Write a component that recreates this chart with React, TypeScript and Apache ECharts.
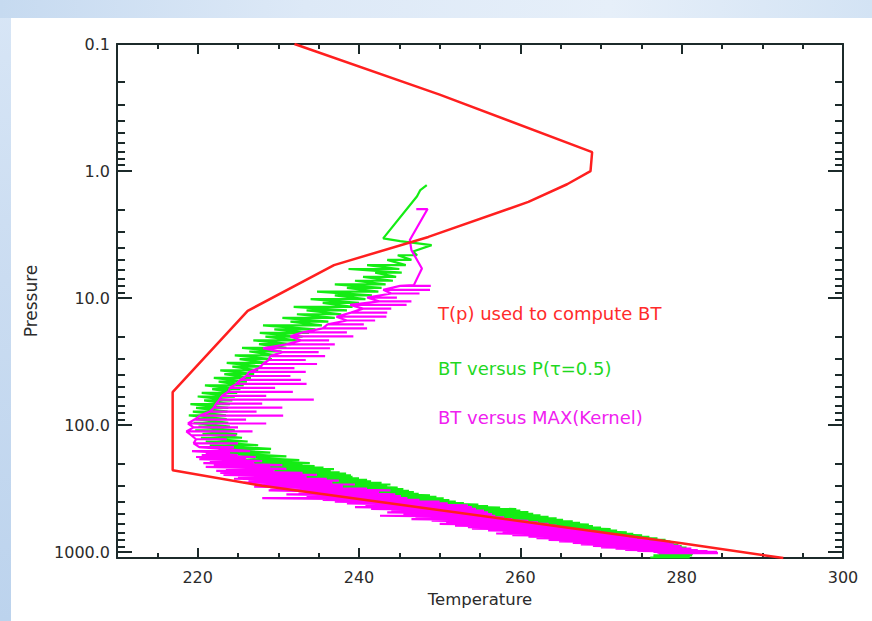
import { useEffect, useRef } from 'react';
import * as echarts from 'echarts';

// ---------- data ----------
const xTickLabels = [220, 240, 260, 280, 300];
const yDecades = [0.1, 1, 10, 100, 1000];

// T(p) used to compute BT
const redT = [232.0, 250.0, 268.9, 268.7, 265.8, 261.0, 248.6, 236.9, 226.2, 216.9, 216.9, 228.0, 280.0, 292.6];
const redP = [0.1, 0.25, 0.71, 1.0, 1.27, 1.75, 3.3, 5.5, 12.6, 55, 226, 300, 851, 1110];

// BT versus P(tau=0.5): head of the line
const greenHeadT = [248.4, 247.6, 247.2, 243.0, 245.1, 249.0, 246.7];
const greenHeadP = [1.29, 1.41, 1.58, 3.39, 3.56, 3.83, 4.3];
// band of channels: [pressure, low T, high T]
const greenBand: [number, number, number][] = [
  [4.6, 244.8, 247.2], [5.0, 243.5, 246.5], [5.5, 241.0, 245.8], [5.9, 238.7, 245.0],
  [6.3, 242.0, 245.3], [6.8, 240.5, 244.6], [7.3, 239.5, 244.2], [7.8, 237.0, 243.3],
  [8.3, 238.5, 242.8], [8.9, 234.8, 242.4], [9.5, 237.0, 241.6], [10.2, 234.0, 240.8],
  [10.9, 235.5, 240.0], [11.7, 231.9, 239.2], [12.5, 233.5, 238.5], [13.4, 232.3, 237.8],
  [14.3, 230.5, 237.0], [15.3, 231.5, 236.2], [16.4, 228.1, 235.4], [17.6, 229.5, 234.6],
  [18.8, 227.7, 233.8], [20.1, 228.4, 233.0], [21.5, 226.9, 232.3], [23.0, 227.6, 231.6],
  [24.6, 225.5, 231.0], [26.3, 226.4, 230.4], [28.2, 224.6, 229.8], [30.2, 225.2, 229.2],
  [32.3, 223.6, 228.6], [34.6, 224.3, 228.0], [37.0, 222.8, 227.5], [39.6, 223.3, 227.0],
  [42.4, 222.0, 226.6], [45.4, 222.6, 226.1], [48.6, 220.9, 225.7], [52.0, 221.8, 225.3],
  [55.6, 220.5, 224.9], [59.5, 220.0, 224.6], [63.7, 220.8, 224.3], [68.2, 219.1, 224.0],
  [73.0, 219.8, 223.8], [78.1, 219.4, 223.7], [83.6, 218.9, 223.5], [89.5, 219.8, 223.6],
  [95.8, 219.5, 223.8], [102.5, 220.1, 224.0], [109.7, 219.7, 224.6], [117.4, 220.6, 224.9],
  [125.6, 220.4, 225.5], [134.4, 221.0, 226.2], [143.8, 221.5, 227.5], [153.9, 222.6, 229.1],
  [164.7, 222.5, 229.0], [176.2, 223.9, 231.0], [188.5, 225.3, 232.6], [199.0, 225.7, 233.9],
  [204, 226.8, 233.0], [210, 227.0, 234.5], [216, 227.8, 235.6], [222, 228.5, 236.9],
  [228, 229.5, 236.5], [235, 229.2, 237.6], [241, 230.6, 238.4], [248, 231.0, 239.0],
  [255, 232.0, 239.2], [262, 232.4, 240.0], [269, 233.6, 241.0], [277, 234.0, 241.5],
  [285, 235.2, 242.8], [293, 236.0, 243.9], [301, 237.0, 243.5], [310, 237.8, 244.8],
  [319, 239.0, 245.5], [328, 240.0, 246.2], [337, 241.0, 246.8], [347, 242.0, 247.4],
  [357, 243.2, 248.8], [367, 244.0, 249.6], [377, 244.6, 250.5], [388, 245.5, 251.2],
  [399, 246.8, 252.0], [410, 247.5, 253.0], [421, 248.0, 254.8], [433, 249.0, 256.0],
  [445, 250.2, 257.5], [458, 251.0, 259.5], [471, 252.5, 260.0], [484, 253.0, 261.0],
  [498, 254.2, 261.6], [512, 255.0, 262.5], [526, 256.4, 263.5], [541, 257.3, 264.5],
  [556, 258.5, 265.3], [572, 259.5, 266.5], [588, 260.8, 267.4], [605, 261.8, 268.5],
  [622, 263.0, 269.0], [640, 264.0, 270.0], [658, 265.0, 271.2], [677, 266.3, 272.0],
  [696, 267.5, 273.2], [716, 268.5, 274.0], [736, 269.6, 275.1], [757, 270.5, 276.0],
  [778, 271.5, 277.0], [800, 272.5, 278.0], [823, 273.4, 278.6], [846, 274.3, 279.0],
  [870, 275.0, 279.6], [895, 275.9, 280.0], [920, 276.5, 280.6], [946, 277.0, 281.0],
  [973, 277.6, 281.3], [1000, 278.0, 281.5], [1028, 277.2, 281.4], [1057, 276.5, 281.3],
  [1100, 276.1, 281.0],
];

// BT versus MAX(Kernel): head of the line
const magentaHeadT = [247.1, 248.5, 246.3, 246.5, 247.8, 246.8];
const magentaHeadP = [1.99, 1.99, 3.49, 4.19, 5.84, 7.9];
// upper branch: thin core on the cold side, strokes towards warm side
const magentaUpperBand: [number, number, number][] = [
  [8.0, 245.1, 248.9], [8.6, 243.0, 248.8], [9.2, 244.0, 247.5], [9.9, 241.0, 244.7],
  [10.6, 242.5, 246.5], [11.3, 238.9, 245.9], [12.1, 240.5, 244.0], [13.0, 239.0, 243.5],
  [14.0, 237.2, 243.4], [15.0, 238.5, 242.0], [16.1, 236.1, 240.6], [17.3, 235.5, 241.0],
  [18.6, 233.0, 238.5], [20.0, 231.5, 239.3], [21.5, 232.8, 236.3], [23.1, 231.0, 237.0],
  [24.8, 228.1, 236.4], [26.6, 230.5, 235.0], [28.6, 229.0, 235.8], [30.7, 228.8, 233.4],
  [33.0, 228.1, 234.8], [35.5, 227.6, 232.0], [38.1, 226.4, 233.4], [41.0, 226.0, 231.5],
  [44.0, 225.3, 232.8], [47.3, 224.8, 233.5], [50.8, 224.0, 229.6], [54.6, 223.8, 231.8],
  [58.7, 223.0, 228.5], [63.0, 222.7, 234.4], [67.7, 222.3, 228.0], [72.8, 222.0, 230.5],
  [78.2, 221.5, 227.3], [84.0, 220.3, 230.6], [90.3, 219.6, 226.0], [97.0, 218.8, 228.5],
  [104, 219.5, 225.0], [112, 218.6, 226.8], [120, 219.2, 224.8], [129, 219.8, 223.6],
  [139, 219.5, 225.0], [149, 220.2, 224.5],
];
// lower branch: dense band
const magentaLowerBand: [number, number, number][] = [
  [160, 219.3, 226.5], [166, 221.0, 224.0], [172, 220.5, 225.0], [178, 219.8, 227.2],
  [185, 220.2, 226.0], [192, 221.5, 228.0], [199, 220.7, 227.0], [206, 222.0, 230.5],
  [213, 221.0, 229.0], [221, 223.5, 231.0], [229, 222.3, 229.5], [237, 222.8, 233.0],
  [246, 223.2, 234.8], [255, 225.0, 233.5], [264, 224.5, 236.0], [273, 226.3, 237.5],
  [283, 225.7, 236.7], [293, 227.5, 239.5], [304, 227.0, 238.0], [315, 229.0, 241.0],
  [326, 228.8, 243.9], [338, 232.5, 242.5], [350, 231.0, 244.5], [362, 233.5, 245.2],
  [375, 228.0, 246.0], [387, 235.5, 247.5], [400, 237.0, 250.0], [413, 238.5, 251.0],
  [427, 240.8, 253.5], [441, 239.5, 254.0], [455, 241.5, 254.5], [470, 244.0, 255.5],
  [485, 243.5, 256.0], [500, 245.5, 256.5], [516, 242.6, 256.9], [532, 247.0, 258.0],
  [548, 246.5, 259.0], [565, 249.0, 261.0], [582, 250.8, 262.2], [599, 250.0, 263.5],
  [617, 251.9, 264.5], [635, 253.5, 265.2], [653, 254.0, 266.0], [672, 256.0, 268.5],
  [692, 257.8, 270.0], [712, 257.0, 271.0], [733, 259.0, 272.2], [754, 261.0, 273.5],
  [776, 262.0, 274.5], [798, 263.5, 276.0], [820, 264.8, 277.8], [843, 266.5, 278.5],
  [866, 267.5, 279.0], [890, 269.0, 279.8], [914, 270.0, 280.0], [937, 271.8, 281.2],
  [960, 273.0, 282.0], [978, 274.5, 283.2], [995, 276.5, 284.4], [1015, 277.0, 284.5],
];

const seriesNames = ['T(p) used to compute BT', 'BT versus P(\u03c4=0.5)', 'BT versus MAX(Kernel)'];
const seriesColors = ['#ff1f1f', '#14ec14', '#ff00ff'];
const legendTextColors = ['#ff2b2b', '#1fd81f', '#f020f0'];

// ---------- helpers ----------
function pairs(t: number[], p: number[]): [number, number][] {
  return t.map((v, i) => [v, p[i]] as [number, number]);
}
// saw-tooth walk: warm end -> cold end at each level, then on to the next level
function sawPath(band: [number, number, number][]): [number, number][] {
  const out: [number, number][] = [];
  band.forEach(([p, lo, hi]) => {
    out.push([hi, p], [lo, p]);
  });
  return out;
}
// comb walk: core point, stroke out to the other end and back
function combPath(band: [number, number, number][]): [number, number][] {
  const out: [number, number][] = [];
  band.forEach(([p, lo, hi]) => {
    out.push([lo, p], [hi, p], [lo, p]);
  });
  return out;
}

const Y_MIN = 0.1;
const Y_MAX = 1110;
const minorLogTicks: number[] = [];
for (let d = -1; d <= 3; d++) {
  for (let m = 2; m <= 9; m++) {
    const v = d + Math.log10(m);
    if (v < Math.log10(Y_MAX)) minorLogTicks.push(v);
  }
}

const AXIS_COLOR = '#1c2a2a';
const TEXT_COLOR = '#2b2b2b';
const FONT = 'DejaVu Sans';

function isDecadeLabel(v: number) {
  return yDecades.some((d) => Math.abs(d - v) / d < 1e-6);
}

export default function App() {
  const ref = useRef<HTMLDivElement>(null);

  useEffect(() => {
    if (!ref.current) return;
    const chart = echarts.init(ref.current, undefined, { renderer: 'svg' });

    const axisLine = { show: true, onZero: false, lineStyle: { color: AXIS_COLOR, width: 2 } };
    const noLine = { show: false, onZero: false };
    const tickStyle = { color: AXIS_COLOR, width: 2 };

    const xBase = {
      type: 'value' as const,
      min: 210,
      max: 300,
      splitLine: { show: false },
    };
    const yLogBase = {
      type: 'log' as const,
      logBase: 10,
      min: Y_MIN,
      max: Y_MAX,
      inverse: true,
      splitLine: { show: false },
    };
    const yMinorBase = {
      type: 'value' as const,
      min: -1,
      max: Math.log10(Y_MAX),
      inverse: true,
      splitLine: { show: false },
      axisLine: noLine,
      axisLabel: { show: false },
      axisTick: { show: true, inside: true, length: 8, lineStyle: tickStyle, customValues: minorLogTicks },
    };

    const lineSeries = (i: number, data: [number, number][], width: number, z: number) => ({
      name: seriesNames[i],
      type: 'line',
      xAxisIndex: 0,
      yAxisIndex: 0,
      showSymbol: false,
      symbol: 'none',
      color: seriesColors[i],
      lineStyle: { width, color: seriesColors[i] },
      data,
      z,
    });

    chart.setOption({
      animation: false,
      backgroundColor: 'transparent',
      grid: { left: 117, right: 29, top: 44, bottom: 63, containLabel: false },
      legend: seriesNames.map((name, i) => ({
        data: [{ name, textStyle: { color: legendTextColors[i] } }],
        left: 433,
        top: [304, 359, 408][i],
        icon: 'none',
        itemWidth: 0,
        itemHeight: 0,
        padding: 0,
        selectedMode: false,
        textStyle: { fontSize: 18, fontFamily: FONT },
      })),
      xAxis: [
        {
          ...xBase,
          position: 'bottom',
          interval: 5,
          axisLine,
          axisTick: { show: true, inside: true, length: 5, lineStyle: tickStyle },
          axisLabel: {
            show: true,
            margin: 11,
            fontSize: 16,
            fontFamily: FONT,
            color: TEXT_COLOR,
            formatter: (v: number) => (xTickLabels.includes(v) ? String(v) : ''),
          },
          name: 'Temperature',
          nameLocation: 'middle',
          nameGap: 33,
          nameTextStyle: { fontSize: 16.5, fontFamily: FONT, color: TEXT_COLOR },
        },
        {
          ...xBase,
          position: 'bottom',
          axisLine: noLine,
          axisLabel: { show: false },
          axisTick: { show: true, inside: true, length: 10, lineStyle: tickStyle, customValues: [220, 240, 260, 280] },
        },
        {
          ...xBase,
          position: 'top',
          interval: 5,
          axisLine,
          axisLabel: { show: false },
          axisTick: { show: true, inside: true, length: 5, lineStyle: tickStyle },
        },
        {
          ...xBase,
          position: 'top',
          axisLine: noLine,
          axisLabel: { show: false },
          axisTick: { show: true, inside: true, length: 10, lineStyle: tickStyle, customValues: [220, 240, 260, 280] },
        },
      ],
      yAxis: [
        {
          ...yLogBase,
          position: 'left',
          axisLine,
          axisTick: { show: true, inside: true, length: 15, lineStyle: tickStyle },
          axisLabel: {
            show: true,
            margin: 7,
            fontSize: 16,
            fontFamily: FONT,
            color: TEXT_COLOR,
            formatter: (v: number) => (isDecadeLabel(v) ? v.toFixed(1) : ''),
          },
          name: 'Pressure',
          nameLocation: 'middle',
          nameGap: 78,
          nameTextStyle: { fontSize: 17, fontFamily: FONT, color: TEXT_COLOR },
        },
        { ...yMinorBase, position: 'left' },
        {
          ...yLogBase,
          position: 'right',
          axisLine,
          axisLabel: { show: false },
          axisTick: { show: true, inside: true, length: 15, lineStyle: tickStyle },
        },
        { ...yMinorBase, position: 'right' },
      ],
      series: [
        lineSeries(1, [...pairs(greenHeadT, greenHeadP), ...sawPath(greenBand)], 2.2, 2),
        lineSeries(
          2,
          [...pairs(magentaHeadT, magentaHeadP), ...combPath(magentaUpperBand), ...sawPath(magentaLowerBand)],
          2.2,
          3,
        ),
        lineSeries(0, pairs(redT, redP), 2.5, 4),
      ],
    });

    return () => chart.dispose();
  }, []);

  return (
    <div
      style={{
        position: 'absolute',
        left: 0,
        top: 0,
        width: 872,
        height: 621,
        overflow: 'hidden',
        background: 'linear-gradient(180deg, #d8e6f6 0%, #cadcf1 45%, #bcd3ed 100%)',
      }}
    >
      <div
        style={{
          position: 'absolute',
          left: 0,
          top: 0,
          width: 872,
          height: 18,
          background: 'linear-gradient(90deg, #c6daf0 0%, #dde9f7 35%, #e6eff9 70%, #d3e3f4 100%)',
        }}
      />
      <div style={{ position: 'absolute', left: 11, top: 18, right: 0, bottom: 0, background: '#ffffff' }} />
      <div ref={ref} style={{ position: 'absolute', left: 0, top: 0, width: 872, height: 621 }} />
    </div>
  );
}
